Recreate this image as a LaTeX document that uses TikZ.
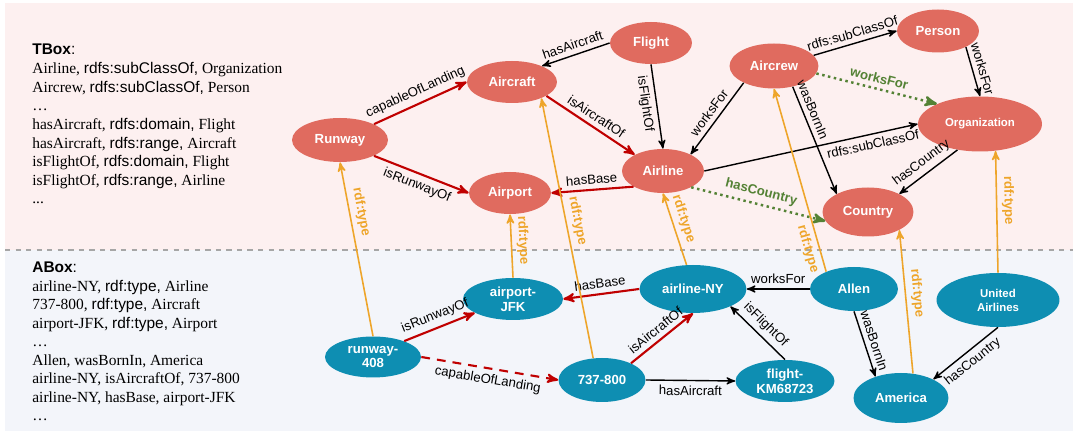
\documentclass[tikz,border=0pt]{standalone}
\usepackage{fontspec}
\setmainfont{Liberation Serif}
\setsansfont{Liberation Sans}
\usepackage{xcolor}
\usetikzlibrary{arrows, shapes.geometric}

\definecolor{tboxfill}{HTML}{E06B5F}
\definecolor{aboxfill}{HTML}{0E8EB2}
\definecolor{relred}{HTML}{C00000}
\definecolor{typeorange}{HTML}{EEA52A}
\definecolor{inferred}{HTML}{548235}
\definecolor{tboxbg}{HTML}{FDF0F0}
\definecolor{aboxbg}{HTML}{F3F5FA}

\begin{document}
\begin{tikzpicture}[->, >=stealth', x=0.02cm, y=-0.02cm]
    \tikzstyle{concept} = [ellipse, fill=tboxfill, text=white, inner sep=0pt, align=center, font=\sffamily\bfseries\fontsize{7.5}{8.5}\selectfont]
    \tikzstyle{entity} = [concept, fill=aboxfill]
    \tikzstyle{rel} = [draw=black, line width=0.8pt]
    \tikzstyle{core} = [draw=relred, line width=1.2pt]
    \tikzstyle{typeof} = [draw=typeorange, line width=0.9pt]
    \tikzstyle{derived} = [draw=inferred, line width=1.4pt, dotted]
    \tikzstyle{lbl} = [sloped, inner sep=2.6pt, font=\sffamily\fontsize{7.5}{8.5}\selectfont]
    \tikzstyle{tlbl} = [lbl, text=typeorange, font=\sffamily\bfseries\fontsize{7.5}{8.5}\selectfont]
    \tikzstyle{glbl} = [lbl, text=inferred, font=\sffamily\bfseries\fontsize{7.5}{8.5}\selectfont]

    \useasboundingbox (0,0) rectangle (1073,431);
    \fill[tboxbg] (5,3) rectangle (1073,250);
    \fill[aboxbg] (5,250) rectangle (1073,431);
    \draw[-, gray!70, dashed, line width=0.8pt] (5,250) -- (1073,250);

    \node [anchor=north west, align=left, inner sep=0pt, font=\fontsize{8.8}{10.6}\selectfont] (tbox) at (32,44)
        {{\sffamily\textbf{TBox}:}\\
         Airline, {\sffamily rdfs:subClassOf,} Organization\\
         Aircrew, {\sffamily rdfs:subClassOf,} Person\\
         \ldots\\
         hasAircraft, {\sffamily rdfs:domain,} Flight\\
         hasAircraft, {\sffamily rdfs:range,} Aircraft\\
         isFlightOf, {\sffamily rdfs:domain,} Flight\\
         isFlightOf, {\sffamily rdfs:range,} Airline\\
         ...};
    \node [anchor=north west, align=left, inner sep=0pt, font=\fontsize{8.8}{10.5}\selectfont] (abox) at (32,262)
        {{\sffamily\textbf{ABox}:}\\
         airline-NY, {\sffamily rdf:type,} Airline\\
         737-800, {\sffamily rdf:type,} Aircraft\\
         airport-JFK, {\sffamily rdf:type,} Airport\\
         \ldots\\
         Allen, wasBornIn, America\\
         airline-NY, isAircraftOf, 737-800\\
         airline-NY, hasBase, airport-JFK\\
         \ldots};

    \node [concept, minimum width=1.92cm, minimum height=0.88cm] at (340,140) (runway) {Runway};
    \node [concept, minimum width=1.8cm, minimum height=0.84cm] at (512,82) (aircraft) {Aircraft};
    \node [concept, minimum width=1.64cm, minimum height=0.84cm] at (510,193) (airport) {Airport};
    \node [concept, minimum width=1.64cm, minimum height=0.84cm] at (651,43) (flight) {Flight};
    \node [concept, minimum width=1.64cm, minimum height=0.88cm] at (663,171) (airline) {Airline};
    \node [concept, minimum width=1.78cm, minimum height=0.9cm] at (774,66) (aircrew) {Aircrew};
    \node [concept, minimum width=1.64cm, minimum height=0.86cm] at (938,31) (person) {Person};
    \node [concept, minimum width=2.48cm, minimum height=1.1cm, font=\sffamily\bfseries\fontsize{6.5}{7.5}\selectfont] at (980,124) (org) {Organization};
    \node [concept, minimum width=1.82cm, minimum height=0.98cm] at (868,212) (country) {Country};

    \node [entity, minimum width=2cm, minimum height=0.84cm] at (513,299) (jfk) {airport-\\JFK};
    \node [entity, minimum width=1.92cm, minimum height=0.82cm] at (373,357) (runway408) {runway-\\408};
    \node [entity, minimum width=1.74cm, minimum height=0.88cm] at (602,380) (b737) {737-800};
    \node [entity, minimum width=2.14cm, minimum height=0.96cm] at (693,289) (airlineny) {airline-NY};
    \node [entity, minimum width=1.76cm, minimum height=0.88cm] at (854,289) (allen) {Allen};
    \node [entity, minimum width=1.98cm, minimum height=0.84cm] at (785,381) (km) {flight-\\KM68723};
    \node [entity, minimum width=1.9cm, minimum height=1cm] at (901,398) (america) {America};
    \node [entity, minimum width=2.46cm, minimum height=1.08cm, font=\sffamily\bfseries\fontsize{6.5}{8}\selectfont] at (998,300) (united) {United\\Airlines};

    \draw[core] (runway.25) to node[lbl, above] {capableOfLanding} (aircraft.west);
    \draw[core] (runway.-25) to node[lbl, below] {isRunwayOf} (airport.west);
    \draw[core] (aircraft.-22) to node[lbl, above] {isAircraftOf} (airline.150);
    \draw[core] (airline.208) to node[lbl, above] {hasBase} (airport.east);
    \draw[rel] (flight.west) to node[lbl, above] {hasAircraft} (aircraft.28);
    \draw[rel] (flight.south) to node[lbl, below, pos=0.45] {isFlightOf} (airline.north);
    \draw[rel] (aircrew.209) to node[lbl, above] {worksFor} (airline.31);
    \draw[rel] (aircrew.15) to node[lbl, above] {rdfs:subClassOf} (person.west);
    \draw[rel] (aircrew.-48) to node[lbl, above, pos=0.25] {wasBornIn} (country.150);
    \draw[rel] (person.-30) to node[lbl, above] {worksFor} (org.north);
    \draw[rel] (airline.east) to node[lbl, below, pos=0.78] {rdfs:subClassOf} (org.west);
    \draw[rel] (org.229) to node[lbl, above] {hasCountry} (country.30);
    \draw[derived] (aircrew.-10) to node[glbl, above] {worksFor} (org.155);
    \draw[derived] (airline.-30) to node[glbl, above] {hasCountry} (country.192);

    \draw[core] (airlineny.west) to node[lbl, above] {hasBase} (jfk.east);
    \draw[core] (runway408.27) to node[lbl, above] {isRunwayOf} (jfk.200);
    \draw[core, dash pattern=on 5pt off 4pt] (runway408.east) to node[lbl, below] {capableOfLanding} (b737.west);
    \draw[core] (b737.30) to node[lbl, above] {isAircraftOf} (airlineny.south);
    \draw[rel] (b737.east) to node[lbl, below] {hasAircraft} (km.west);
    \draw[rel] (km.north) to node[lbl, above] {isFlightOf} (airlineny.-25);
    \draw[rel] (allen.west) to node[lbl, above] {worksFor} (airlineny.east);
    \draw[rel] (allen.south) to node[lbl, above] {wasBornIn} (america.140);
    \draw[rel] (united.south) to node[lbl, below] {hasCountry} (america.30);

    \draw[typeof] (runway408.north) to node[tlbl, above, pos=0.7] {rdf:type} (runway.south);
    \draw[typeof] (jfk.north) to node[tlbl, above, pos=0.58] {rdf:type} (airport.south);
    \draw[typeof] (b737.112) to node[tlbl, above, pos=0.52] {rdf:type} (aircraft.-29);
    \draw[typeof] (airlineny.105) to node[tlbl, above, pos=0.59] {rdf:type} (airline.south);
    \draw[typeof] (allen.148) to node[tlbl, below, pos=0.14] {rdf:type} (aircrew.south);
    \draw[typeof] (america.64) to node[tlbl, above, pos=0.55] {rdf:type} (country.-30);
    \draw[typeof] (united.north) to node[tlbl, above, pos=0.59] {rdf:type} (org.-60);
\end{tikzpicture}
\end{document}
